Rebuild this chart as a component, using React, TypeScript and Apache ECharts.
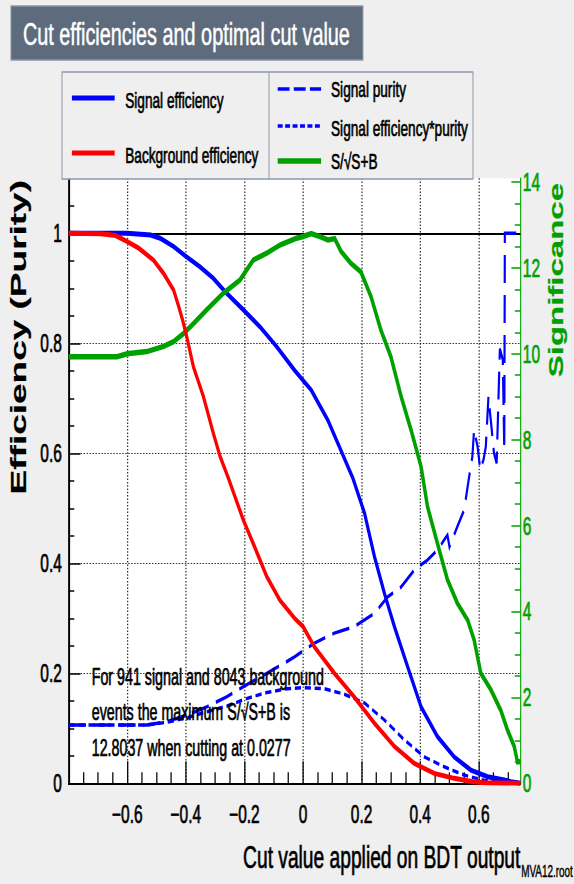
import React, { useEffect, useRef } from "react";
import * as echarts from "echarts";

// ---------- data ----------
const bgEff: [number, number][] = [
  [-0.8, 1.0], [-0.69, 0.999], [-0.64, 0.996], [-0.6, 0.985], [-0.561, 0.973], [-0.51, 0.951],
  [-0.476, 0.927], [-0.442, 0.897], [-0.425, 0.868], [-0.41, 0.84], [-0.397, 0.812], [-0.374, 0.757],
  [-0.34, 0.703], [-0.306, 0.636], [-0.283, 0.594], [-0.255, 0.555], [-0.204, 0.479],
  [-0.17, 0.436], [-0.124, 0.376], [-0.079, 0.333], [-0.029, 0.3], [0.0, 0.285], [0.039, 0.248],
  [0.107, 0.2], [0.175, 0.157], [0.244, 0.109], [0.312, 0.067], [0.38, 0.036], [0.448, 0.018],
  [0.516, 0.009], [0.58, 0.003], [0.62, 0.001], [0.742, 0.0],
];

const sigEff: [number, number][] = [
  [-0.8, 1.0], [-0.6, 1.0], [-0.52, 0.997], [-0.488, 0.991], [-0.442, 0.976], [-0.397, 0.957],
  [-0.352, 0.939], [-0.306, 0.918], [-0.261, 0.891], [-0.204, 0.861], [-0.147, 0.83],
  [-0.09, 0.794], [-0.029, 0.751], [0.028, 0.715], [0.085, 0.66], [0.119, 0.618], [0.17, 0.555],
  [0.21, 0.491], [0.244, 0.412], [0.278, 0.345], [0.312, 0.285], [0.357, 0.212], [0.403, 0.139],
  [0.459, 0.085], [0.516, 0.048], [0.573, 0.024], [0.63, 0.012], [0.687, 0.006], [0.71, 0.003],
  [0.742, 0.0],
];

const purity: [number, number][] = [
  [-0.8, 0.106], [-0.533, 0.106], [-0.465, 0.112], [-0.397, 0.124], [-0.329, 0.139],
  [-0.261, 0.157], [-0.193, 0.179], [-0.124, 0.2], [-0.056, 0.221], [-0.029, 0.23],
  [0.039, 0.255], [0.107, 0.273], [0.175, 0.285], [0.244, 0.309], [0.289, 0.339],
  [0.335, 0.357], [0.38, 0.388], [0.425, 0.406], [0.459, 0.424], [0.485, 0.445], [0.493, 0.451],
  [0.5, 0.43], [0.527, 0.467], [0.55, 0.497], [0.567, 0.557], [0.578, 0.594], [0.584, 0.643],
  [0.596, 0.612], [0.605, 0.57], [0.616, 0.588], [0.624, 0.612], [0.633, 0.703], [0.641, 0.66],
  [0.652, 0.6], [0.661, 0.582], [0.672, 0.79], [0.682, 0.77], [0.687, 0.606], [0.689, 1.0],
  [0.742, 1.0],
];

const effPurity: [number, number][] = [
  [-0.8, 0.106], [-0.533, 0.106], [-0.465, 0.111], [-0.397, 0.119], [-0.329, 0.13],
  [-0.261, 0.14], [-0.193, 0.154], [-0.124, 0.165], [-0.056, 0.172], [0.0, 0.174],
  [0.073, 0.172], [0.141, 0.162], [0.21, 0.146], [0.278, 0.115], [0.346, 0.079],
  [0.414, 0.048], [0.482, 0.03], [0.55, 0.015], [0.62, 0.005], [0.69, 0.002], [0.742, 0.0],
];

// significance S/sqrt(S+B), right axis units
const significance: [number, number][] = [
  [-0.8, 9.93], [-0.635, 9.93], [-0.6, 10.0], [-0.533, 10.05], [-0.476, 10.17], [-0.442, 10.28],
  [-0.408, 10.47], [-0.374, 10.7], [-0.329, 11.02], [-0.272, 11.41], [-0.215, 11.72],
  [-0.17, 12.18], [-0.124, 12.34], [-0.079, 12.53], [-0.022, 12.69], [0.0, 12.73],
  [0.028, 12.8], [0.06, 12.72], [0.085, 12.65], [0.108, 12.68], [0.13, 12.38], [0.164, 12.1],
  [0.198, 11.9], [0.232, 11.33], [0.266, 10.55], [0.3, 9.93], [0.335, 9.0], [0.369, 8.22],
  [0.403, 7.37], [0.425, 6.44], [0.459, 5.58], [0.493, 4.74], [0.527, 4.19], [0.562, 3.8],
  [0.584, 3.34], [0.607, 2.56], [0.641, 2.18], [0.675, 1.7], [0.698, 1.24], [0.721, 0.86],
  [0.732, 0.5], [0.742, 0.5],
];

const xTicks = [-0.6, -0.4, -0.2, 0, 0.2, 0.4, 0.6];
const xMinorTicks = [
  -0.75, -0.7, -0.65, -0.55, -0.5, -0.45, -0.35, -0.3, -0.25, -0.15, -0.1, -0.05,
  0.05, 0.1, 0.15, 0.25, 0.3, 0.35, 0.45, 0.5, 0.55, 0.65, 0.7,
];
const yTicks = [0, 0.2, 0.4, 0.6, 0.8, 1];
const yMinorTicks = [
  0.05, 0.1, 0.15, 0.25, 0.3, 0.35, 0.45, 0.5, 0.55, 0.65, 0.7, 0.75, 0.85, 0.9, 0.95, 1.05,
];
const sigTicks = [0, 2, 4, 6, 8, 10, 12, 14];
const sigMinorTicks = [
  0.5, 1, 1.5, 2.5, 3, 3.5, 4.5, 5, 5.5, 6.5, 7, 7.5, 8.5, 9, 9.5, 10.5, 11, 11.5, 12.5, 13, 13.5,
];

const X_MIN = -0.8;
const X_MAX = 0.742;
const Y_MAX = 1.1;
const SIG_MAX = 12.8037 * 1.1;

const TITLE = "Cut efficiencies and optimal cut value";
const annotation = [
  "For 941 signal and 8043 background",
  "events the maximum S/\u221AS+B is",
  "12.8037 when cutting at 0.0277",
];

// ---------- layout ----------
const W = 926;
const H = 884;
const S = 574 / W;
const FONT = '"Liberation Sans", Arial, Helvetica, sans-serif';
const BLUE = "#0000ff";
const RED = "#ff0000";
const GREEN = "#00a000";

const minus = (v: number) => String(v).replace("-", "\u2212");

function txt(x: number, y: number, text: string, size: number, opts: any = {}) {
  const align = opts.align || "left";
  const va = opts.verticalAlign || "middle";
  const fill = opts.fill || "#000";
  return {
    type: "text",
    x,
    y,
    rotation: opts.rotation || 0,
    z: 100,
    style: {
      text,
      fill,
      stroke: fill,
      lineWidth: opts.stroke === undefined ? 0.7 : opts.stroke,
      font: `${opts.weight || "normal"} ${size}px ${FONT}`,
      align,
      verticalAlign: va,
      textAlign: align,
      textVerticalAlign: va,
    },
  };
}

function seg(x1: number, y1: number, x2: number, y2: number, color: string, width: number, dash?: number[]) {
  return {
    type: "line",
    z: 100,
    shape: { x1, y1, x2, y2 },
    style: { stroke: color, lineWidth: width, lineDash: dash || null },
  };
}

function buildOption(): any {
  const gridLeft = 110.8;
  const gridRight = 86.5;
  const gridTop = 178.3;
  const gridBottom = 100.7;

  const graphic: any[] = [
    { type: "rect", z: 99, shape: { x: 17.7, y: 6, width: 567.8, height: 54 }, style: { fill: "#5d6b7d", stroke: "#8a96a6", lineWidth: 1.5 } },
    txt(37, 34, TITLE, 32, { fill: "#ffffff", stroke: 0.5 }),
    // legend box
    { type: "rect", z: 99, shape: { x: 100, y: 72, width: 663, height: 107 }, style: { fill: "#efefef", stroke: "#8d9aab", lineWidth: 1.6 } },
    seg(434, 72, 434, 179, "#8d9aab", 1.6),
    seg(116, 98, 185, 98, BLUE, 5),
    txt(202, 100, "Signal efficiency", 22),
    seg(116, 153, 185, 153, RED, 5),
    txt(202, 155, "Background efficiency", 22),
    seg(448, 89, 518, 89, BLUE, 3.5, [19, 7]),
    txt(534, 89, "Signal purity", 22),
    seg(448, 126, 518, 126, BLUE, 3.5, [8, 4]),
    txt(534, 128, "Signal efficiency*purity", 22),
    seg(448, 161, 518, 161, GREEN, 5.5),
    txt(534, 161, "S/\u221AS+B", 22),
    // axis titles
    txt(29, 180, "Efficiency (Purity)", 37, { align: "right", rotation: Math.PI / 2, weight: "bold", stroke: 0.3 }),
    txt(897, 183, "Significance", 33, { align: "right", rotation: Math.PI / 2, weight: "bold", fill: GREEN, stroke: 0.3 }),
    txt(W - gridRight, 857, "Cut value applied on BDT output", 31, { align: "right" }),
    txt(924, 872, "MVA12.root", 16, { align: "right", stroke: 0.4 }),
    // annotation
    txt(148, 677, annotation[0], 23),
    txt(148, 712, annotation[1], 23),
    txt(148, 748, annotation[2], 23),
  ];

  const lineSeries = (name: string, data: any, color: string, width: number, z: number, extra: any = {}) => ({
    name,
    type: "line",
    data,
    showSymbol: false,
    symbol: "none",
    smooth: false,
    clip: true,
    z,
    silent: true,
    lineStyle: { color, width, type: extra.dash || "solid", cap: "butt", join: "miter" },
    yAxisIndex: extra.yAxisIndex || 0,
    xAxisIndex: 0,
    ...(extra.markLine ? { markLine: extra.markLine } : {}),
  });

  const labelStyle = (color: string, margin: number) => ({
    show: true,
    fontSize: 25,
    color,
    margin,
    fontFamily: FONT,
    textBorderColor: color,
    textBorderWidth: 0.7,
  });

  return {
    animation: false,
    backgroundColor: "#efefef",
    textStyle: { fontFamily: FONT },
    grid: {
      left: gridLeft,
      right: gridRight,
      top: gridTop,
      bottom: gridBottom,
      show: true,
      backgroundColor: "#ffffff",
      borderWidth: 0,
      containLabel: false,
    },
    xAxis: [
      {
        type: "value",
        min: X_MIN,
        max: X_MAX,
        position: "bottom",
        axisLine: { show: true, onZero: false, lineStyle: { color: "#000", width: 2 } },
        axisTick: { show: true, inside: true, length: 22, customValues: xTicks, lineStyle: { color: "#000", width: 2 } },
        axisLabel: { ...labelStyle("#000", 18), customValues: xTicks, formatter: minus },
        splitLine: { show: true, lineStyle: { color: "#000", width: 1.6, type: [1.5, 1.8] } },
      },
      {
        type: "value",
        min: X_MIN,
        max: X_MAX,
        position: "bottom",
        axisLine: { show: false, onZero: false },
        axisTick: { show: true, inside: true, length: 11, customValues: xMinorTicks, lineStyle: { color: "#000", width: 2 } },
        axisLabel: { show: false },
        splitLine: { show: false },
      },
    ],
    yAxis: [
      {
        type: "value",
        min: 0,
        max: Y_MAX,
        position: "left",
        axisLine: { show: true, onZero: false, lineStyle: { color: "#000", width: 3.2 } },
        axisTick: { show: true, inside: true, length: 19, customValues: yTicks, lineStyle: { color: "#000", width: 1.5 } },
        axisLabel: { ...labelStyle("#000", 11), customValues: yTicks },
        splitLine: { show: true, lineStyle: { color: "#000", width: 1, type: [2.4, 2.4] } },
      },
      {
        type: "value",
        min: 0,
        max: Y_MAX,
        position: "left",
        axisLine: { show: false, onZero: false },
        axisTick: { show: true, inside: true, length: 9, customValues: yMinorTicks, lineStyle: { color: "#000", width: 1.5 } },
        axisLabel: { show: false },
        splitLine: { show: false },
      },
      {
        type: "value",
        min: 0,
        max: SIG_MAX,
        position: "right",
        axisLine: { show: true, onZero: false, lineStyle: { color: GREEN, width: 1.8 } },
        axisTick: { show: true, inside: true, length: 14.5, customValues: sigTicks, lineStyle: { color: GREEN, width: 1.5 } },
        axisLabel: { ...labelStyle(GREEN, 4), customValues: sigTicks },
        splitLine: { show: false },
      },
      {
        type: "value",
        min: 0,
        max: SIG_MAX,
        position: "right",
        axisLine: { show: false, onZero: false },
        axisTick: { show: true, inside: true, length: 9, customValues: sigMinorTicks, lineStyle: { color: GREEN, width: 1.5 } },
        axisLabel: { show: false },
        splitLine: { show: false },
      },
    ],
    series: [
      lineSeries("Signal efficiency", sigEff, BLUE, 5, 2, {
        markLine: {
          z: 1,
          silent: true,
          symbol: "none",
          label: { show: false },
          lineStyle: { color: "#000", width: 2, type: "solid" },
          data: [{ yAxis: 1 }],
        },
      }),
      lineSeries("Signal purity", purity, BLUE, 3.5, 3, { dash: [28, 12] }),
      lineSeries("Signal efficiency*purity", effPurity, BLUE, 3.5, 3, { dash: [10, 6] }),
      lineSeries("S/\u221AS+B", significance, GREEN, 5.5, 4, { yAxisIndex: 2 }),
      lineSeries("Background efficiency", bgEff, RED, 5, 5),
    ],
    graphic: { elements: graphic },
  };
}

export default function App() {
  const ref = useRef<HTMLDivElement>(null);
  useEffect(() => {
    if (!ref.current) return;
    const chart = echarts.init(ref.current, null, { renderer: "svg" });
    chart.setOption(buildOption());
    return () => chart.dispose();
  }, []);
  return (
    <div
      style={{
        position: "fixed",
        left: 0,
        top: 0,
        width: 574,
        height: 884,
        overflow: "hidden",
        background: "#efefef",
      }}
    >
      <div
        ref={ref}
        style={{ width: W, height: H, transform: `scaleX(${S})`, transformOrigin: "0 0" }}
      />
    </div>
  );
}
